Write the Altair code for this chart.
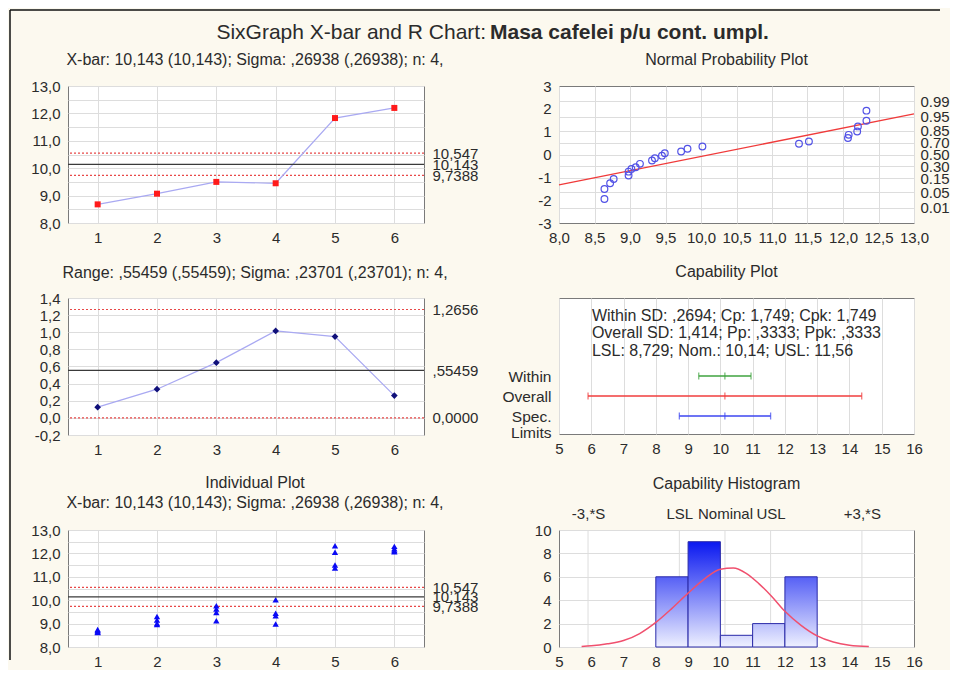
import altair as alt
import pandas as pd

FONT = "Liberation Sans"
BG = "#FCF9EF"
GRID = "#DDDDDD"
TXT = "#2B2B2B"
FS = 15
TFS = 16

# ---------------- data ----------------
title_parts = ["SixGraph X-bar and R Chart:", "Masa cafelei p/u cont. umpl."]
xbar_title = "X-bar: 10,143 (10,143); Sigma: ,26938 (,26938); n: 4,"
range_title = "Range: ,55459 (,55459); Sigma: ,23701 (,23701); n: 4,"

samples = [1, 2, 3, 4, 5, 6]
xbar_means = [8.68, 9.07, 9.50, 9.45, 11.83, 12.20]
ranges = [0.125, 0.335, 0.645, 1.015, 0.950, 0.260]
xbar_limits = [9.7388, 10.143, 10.547]
xbar_limit_text = ["9,7388", "10,143", "10,547"]
range_limits = [0.0, 0.55459, 1.2656]
range_limit_text = ["0,0000", ",55459", "1,2656"]
limit_kind = ["lcl", "cl", "ucl"]

indiv_sample = [1, 1, 1, 1, 2, 2, 2, 2, 3, 3, 3, 3, 4, 4, 4, 4, 5, 5, 5, 5, 6, 6, 6, 6]
indiv_values = [8.62, 8.65, 8.70, 8.75, 8.96, 9.00, 9.15, 9.30, 9.12, 9.47, 9.62, 9.76,
                8.98, 9.33, 9.44, 10.02, 11.38, 11.50, 12.05, 12.33, 12.07, 12.12, 12.20, 12.30]

npp_x = [8.64, 8.64, 8.72, 8.77, 8.98, 8.98, 9.02, 9.08, 9.14, 9.31, 9.35, 9.45,
         9.49, 9.72, 9.81, 10.02, 11.38, 11.52, 12.07, 12.08, 12.20, 12.21, 12.33, 12.33]
npp_z = [-1.95, -1.51, -1.26, -1.07, -0.92, -0.75, -0.63, -0.56, -0.41, -0.26, -0.16, -0.05,
         0.06, 0.13, 0.25, 0.35, 0.47, 0.57, 0.72, 0.86, 1.01, 1.23, 1.48, 1.92]
npp_line_x = [8.0, 13.0]
npp_line_z = [-1.33, 1.78]
prob_z = [-2.326, -1.645, -1.036, -0.524, 0.0, 0.524, 1.036, 1.645, 2.326]
prob_text = ["0.01", "0.05", "0.15", "0.30", "0.50", "0.70", "0.85", "0.95", "0.99"]

cap_rows = ["Within", "Overall", "Spec. Limits"]
cap_pos = [3, 2, 1]
cap_lo = [9.33, 5.90, 8.729]
cap_mid = [10.14, 10.14, 10.14]
cap_hi = [10.95, 14.38, 11.557]
cap_colors = ["#3FA33F", "#F03C3C", "#3C46F0"]
cap_text = ["Within SD: ,2694; Cp: 1,749; Cpk: 1,749",
            "Overall SD: 1,414; Pp: ,3333; Ppk: ,3333",
            "LSL: 8,729; Nom.: 10,14; USL: 11,56"]
cap_text_y = [6.0, 5.15, 4.27]

hist_lo = [8, 9, 10, 11, 12]
hist_hi = [9, 10, 11, 12, 13]
hist_count = [6, 9, 1, 2, 6]
curve_x = [5.7, 6.0, 6.5, 7.0, 7.5, 8.0, 8.5, 9.0, 9.5, 10.0, 10.4, 10.8, 11.2, 11.6,
           12.0, 12.5, 13.0, 13.5, 14.0, 14.6]
curve_y = [0.05, 0.10, 0.27, 0.55, 1.15, 2.1, 3.3, 4.6, 5.8, 6.65, 6.75, 6.3, 5.4, 4.3,
           3.05, 1.85, 0.95, 0.42, 0.15, 0.04]
ref_x = [5.90, 8.729, 10.143, 11.557, 14.386]
ref_text = ["-3,*S", "LSL", "Nominal", "USL", "+3,*S"]

# tick positions
xbar_ticks = [8 + 0.5 * i for i in range(11)]
range_ticks = [round(-0.2 + 0.2 * i, 1) for i in range(9)]
npp_xticks = [8 + 0.5 * i for i in range(11)]
npp_zticks = [-3, -2, -1, 0, 1, 2, 3]
cap_xticks = list(range(5, 17))
hist_yticks = [0, 2, 4, 6, 8, 10]

FMT1 = "replace(replace(format(datum.value, '.1f'), '.', ','), '\u2212', '-')"
FMTI = "'' + datum.value"


def ternary(values, labels):
    pairs = sorted(zip(values, labels))
    expr = f"'{pairs[-1][1]}'"
    for i in range(len(pairs) - 2, -1, -1):
        thr = (pairs[i][0] + pairs[i + 1][0]) / 2
        expr = f"datum.value < {thr:.5f} ? '{pairs[i][1]}' : ({expr})"
    return expr


def ax(**kw):
    base = dict(title=None, labelFont=FONT, labelFontSize=FS, labelColor=TXT, domain=False,
                ticks=False, gridColor=GRID, gridWidth=1, labelOverlap=False, labelFlush=False)
    base.update(kw)
    return alt.Axis(**base)


def ptitle(text, dx, offset):
    return alt.TitleParams(text=text, anchor="middle", frame="group", dx=dx, offset=offset,
                           font=FONT, fontSize=TFS, fontWeight="normal", color=TXT,
                           lineHeight=20, baseline="bottom")


def control_panel(df, field, dom, yticks, ylab, limits, limit_text, title, height,
                  point_fn, with_line=True):
    xs = alt.Scale(domain=[0.5, 6.5], nice=False, zero=False)
    ys = alt.Scale(domain=dom, nice=False, zero=False)
    xax = ax(values=samples, labelExpr=FMTI, grid=True, labelPadding=7)
    yax = ax(values=yticks, labelExpr=ylab, grid=True, labelPadding=8)
    base = alt.Chart(df).encode(
        x=alt.X("sample:Q", scale=xs, axis=xax),
        y=alt.Y(f"{field}:Q", scale=ys, axis=yax),
    )
    lim_df = pd.DataFrame({"v": limits, "t": limit_text, "kind": limit_kind})
    dashed = alt.Chart(lim_df).transform_filter(alt.datum.kind != "cl").mark_rule(
        color="#E84848", strokeDash=[2, 2], strokeWidth=1.2).encode(y=alt.Y("v:Q", scale=ys, axis=yax))
    layers = [dashed]
    if with_line:
        layers.append(base.mark_line(color="#A9A9F2", strokeWidth=1.2))
    layers.append(point_fn(base))
    inner = alt.layer(*layers)
    center = alt.Chart(lim_df).transform_filter(alt.datum.kind == "cl").mark_rule(
        color="#3A3A3A", strokeWidth=1.2).encode(
        y=alt.Y("v:Q", scale=ys, axis=ax(orient="right", values=limits,
                                         labelExpr=ternary(limits, limit_text), grid=False,
                                         labelPadding=8)))
    return alt.layer(inner, center).resolve_scale(y="independent").properties(
        width=356, height=height, title=title)


# ---------- X-bar ----------
xbar_df = pd.DataFrame({"sample": samples, "m": xbar_means})
lab_half = f"datum.value % 1 == 0 ? {FMT1} : ''"
xbar_chart = control_panel(
    xbar_df, "m", [8, 13], xbar_ticks, lab_half, xbar_limits, xbar_limit_text,
    ptitle(xbar_title, 9, -5), 137,
    lambda b: b.mark_square(color="#FF1A1A", size=36, opacity=1))

# ---------- Range ----------
range_df = pd.DataFrame({"sample": samples, "r": ranges})
range_chart = control_panel(
    range_df, "r", [-0.2, 1.4], range_ticks, FMT1, range_limits, range_limit_text,
    ptitle(range_title, 9, -6), 137,
    lambda b: b.mark_point(shape="diamond", filled=True, color="#10107A", size=45, opacity=1))

# ---------- Individual ----------
ind_df = pd.DataFrame({"sample": indiv_sample, "v": indiv_values})
ind_chart = control_panel(
    ind_df, "v", [8, 13], xbar_ticks, lab_half, xbar_limits, xbar_limit_text,
    ptitle(["Individual Plot", xbar_title], 9, -4), 117,
    lambda b: b.mark_point(shape="triangle-up", filled=True, color="#0A0AF5", size=40, opacity=1),
    with_line=False)

# ---------- Normal probability ----------
nxs = alt.Scale(domain=[8, 13], nice=False, zero=False)
nzs = alt.Scale(domain=[-3, 3], nice=False, zero=False)
nxax = ax(values=npp_xticks, labelExpr=FMT1, grid=True, labelPadding=7)
nzax = ax(values=npp_zticks, labelExpr=FMTI, grid=False, labelPadding=8)
npp_pts = alt.Chart(pd.DataFrame({"x": npp_x, "z": npp_z})).mark_point(
    shape="circle", filled=False, color="#5252E6", strokeWidth=1.2, size=45, opacity=1).encode(
    x=alt.X("x:Q", scale=nxs, axis=nxax), y=alt.Y("z:Q", scale=nzs, axis=nzax))
npp_fit = alt.Chart(pd.DataFrame({"x": npp_line_x, "z": npp_line_z})).mark_line(
    color="#F03A3A", strokeWidth=1.3).encode(
    x=alt.X("x:Q", scale=nxs, axis=nxax), y=alt.Y("z:Q", scale=nzs, axis=nzax))
npp_prob = alt.Chart(pd.DataFrame({"z": prob_z})).mark_rule(opacity=0).encode(
    y=alt.Y("z:Q", scale=nzs, axis=ax(orient="right", values=prob_z,
                                      labelExpr=ternary(prob_z, prob_text), grid=True,
                                      labelPadding=6)))
npp_chart = alt.layer(npp_prob, alt.layer(npp_fit, npp_pts)).resolve_scale(y="independent").properties(
    width=355, height=137, title=ptitle("Normal Probability Plot", -10, -5))

# ---------- Capability plot ----------
cap_df = pd.DataFrame({"row": cap_rows, "pos": cap_pos, "lo": cap_lo, "mid": cap_mid, "hi": cap_hi})
cxs = alt.Scale(domain=[5, 16], nice=False, zero=False)
cys = alt.Scale(domain=[0.1, 6.9], nice=False, zero=False)
ccol = alt.Color("row:N", scale=alt.Scale(domain=cap_rows, range=cap_colors), legend=None)
cap_label = "datum.value == 3 ? 'Within' : (datum.value == 2 ? 'Overall' : ['Spec.', 'Limits'])"
cxax = ax(values=cap_xticks, labelExpr=FMTI, grid=True, labelPadding=7)
cyax = ax(values=[1, 2, 3], labelExpr=cap_label, grid=False, labelPadding=8,
          labelFontSize=15.5, labelLineHeight=16)
cap_rule = alt.Chart(cap_df).mark_rule(strokeWidth=1.3).encode(
    x=alt.X("lo:Q", scale=cxs, axis=cxax), x2="hi:Q",
    y=alt.Y("pos:Q", scale=cys, axis=cyax), color=ccol)
cap_ticks = alt.Chart(cap_df).transform_fold(["lo", "mid", "hi"], as_=["k", "xv"]).mark_tick(
    orient="vertical", thickness=1.3, size=7).encode(
    x=alt.X("xv:Q", scale=cxs, axis=cxax), y=alt.Y("pos:Q", scale=cys, axis=cyax), color=ccol)
cap_txt = alt.Chart(pd.DataFrame({"t": cap_text, "y": cap_text_y})).mark_text(
    align="left", baseline="middle", font=FONT, fontSize=16, color=TXT).encode(
    x=alt.XDatum(6.02, scale=cxs, axis=cxax), y=alt.Y("y:Q", scale=cys, axis=cyax), text="t:N")
cap_chart = alt.layer(cap_rule, cap_ticks, cap_txt).properties(
    width=355, height=136, title=ptitle("Capability Plot", -10, 2))

# ---------- Capability histogram ----------
hxs = alt.Scale(domain=[5, 16], nice=False, zero=False)
hys = alt.Scale(domain=[0, 10], nice=False, zero=False)
hxax = ax(values=cap_xticks, labelExpr=FMTI, grid=False, labelPadding=7)
hyax = ax(values=hist_yticks, labelExpr=FMTI, grid=True, labelPadding=8)
hist_df = pd.DataFrame({"lo": hist_lo, "hi": hist_hi, "n": hist_count})
PALE = (238, 240, 255)
BLUE = (10, 24, 240)


def mix(t):
    c = [round(p + (b - p) * t) for p, b in zip(PALE, BLUE)]
    return "#%02x%02x%02x" % tuple(c)


bar_layers = []
for lo, cnt in zip(hist_lo, hist_count):
    grad = alt.Gradient(gradient="linear",
                        stops=[alt.GradientStop(color=mix(cnt / max(hist_count)), offset=0),
                               alt.GradientStop(color=mix(0.0), offset=1)],
                        x1=0, x2=0, y1=0, y2=1)
    bar_layers.append(alt.Chart(hist_df).transform_filter(alt.datum.lo == lo).mark_rect(
        fill=grad, stroke="#2A2AA8", strokeWidth=1).encode(
        x=alt.X("lo:Q", scale=hxs, axis=hxax), x2="hi:Q",
        y=alt.Y("n:Q", scale=hys, axis=hyax), y2=alt.Y2Datum(0)))
curve = alt.Chart(pd.DataFrame({"x": curve_x, "y": curve_y})).mark_line(
    color="#F0506E", strokeWidth=1.5, interpolate="monotone").encode(
    x=alt.X("x:Q", scale=hxs, axis=hxax), y=alt.Y("y:Q", scale=hys, axis=hyax))
refs = alt.Chart(pd.DataFrame({"v": ref_x})).mark_rule(color=GRID, strokeWidth=1).encode(
    x=alt.X("v:Q", scale=hxs, axis=ax(orient="top", values=ref_x, labelExpr=ternary(ref_x, ref_text),
                                      grid=False, labelPadding=9)))
hist_chart = alt.layer(refs, alt.layer(*bar_layers, curve)).resolve_scale(x="independent").properties(
    width=355, height=117, title=ptitle("Capability Histogram", -10, -2))

# ---------- main title + frame (top grid row) ----------
HIDDEN = alt.ViewBackground(fill="transparent", stroke="transparent")
one = pd.DataFrame({"t": [title_parts[0]]})
two = pd.DataFrame({"t": [title_parts[1]]})
t1 = alt.Chart(one).mark_text(align="right", baseline="middle", font=FONT, fontSize=21,
                              color=TXT).encode(text="t:N", x=alt.value(418), y=alt.value(23))
t2 = alt.Chart(two).mark_text(align="left", baseline="middle", font=FONT, fontSize=21,
                              fontWeight="bold", color=TXT).encode(text="t:N", x=alt.value(-69), y=alt.value(23))
b_top = alt.Chart(one).mark_rule(color="#111111", strokeWidth=1.5).encode(
    x=alt.value(-58), x2=alt.value(872), y=alt.value(0))
b_left = alt.Chart(one).mark_rule(color="#111111", strokeWidth=1.5).encode(
    x=alt.value(-58), y=alt.value(0), y2=alt.value(650))
title_left = alt.layer(b_top, b_left, t1).properties(width=356, height=66, view=HIDDEN)
title_right = alt.layer(t2).properties(width=355, height=66, view=HIDDEN)


def spacer(w, h):
    return alt.Chart(one).mark_point(opacity=0).encode(
        x=alt.value(0), y=alt.value(0)).properties(width=w, height=h, view=HIDDEN)


chart = alt.concat(
    title_left, title_right,
    xbar_chart, npp_chart,
    spacer(356, 55), spacer(355, 55),
    range_chart, cap_chart,
    spacer(356, 75), spacer(355, 75),
    ind_chart, hist_chart,
    columns=2, spacing={"row": 10, "column": 135}, bounds="flush",
).properties(background=BG, padding=0).configure_view(stroke="#7A7A7A", strokeWidth=1, fill="white")

chart.save("out.html", embed_options={"renderer": "svg", "actions": False})
